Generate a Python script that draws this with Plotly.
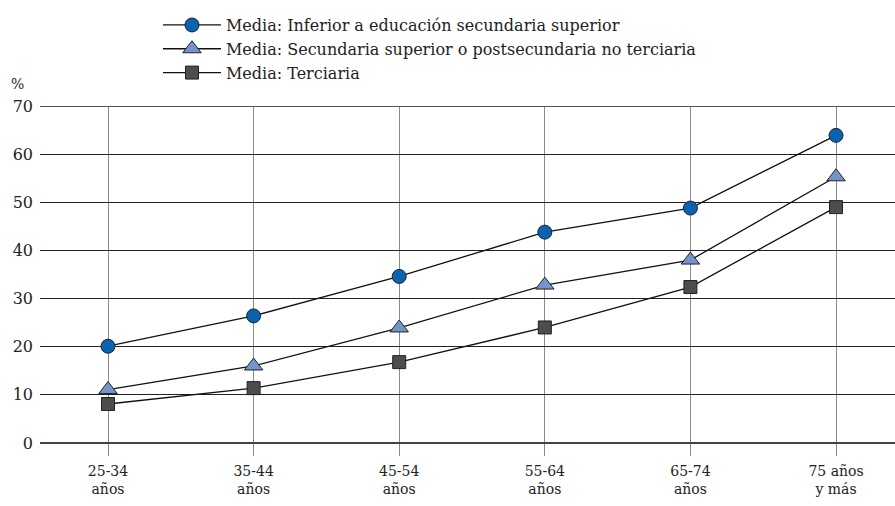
import plotly.graph_objects as go

categories = ["25-34<br>años", "35-44<br>años", "45-54<br>años", "55-64<br>años", "65-74<br>años", "75 años<br>y más"]
inferior = [20.1, 26.4, 34.6, 43.8, 48.8, 63.9]
secundaria = [11.1, 16.0, 23.9, 32.8, 38.0, 55.3]
terciaria = [8.1, 11.4, 16.8, 24.0, 32.4, 49.0]

names = ["Media: Inferior a educación secundaria superior",
         "Media: Secundaria superior o postsecundaria no terciaria",
         "Media: Terciaria"]

xs = list(range(len(categories)))
FONT = "DejaVu Serif"

fig = go.Figure()
styles = [
    (inferior, "circle", "#0a63b0", 14),
    (secundaria, "triangle-up", "#7595c9", 16),
    (terciaria, "square", "#4d4d4d", 13),
]
for (vals, sym, col, sz), nm in zip(styles, names):
    fig.add_trace(go.Scatter(
        x=xs, y=vals, name=nm, mode="lines+markers",
        line=dict(color="#111111", width=1.3),
        marker=dict(symbol=sym, size=sz, color=col, line=dict(color="#222222", width=1)),
    ))

fig.update_layout(
    width=895, height=506,
    margin=dict(l=40, r=0, t=106, b=63),
    paper_bgcolor="white", plot_bgcolor="white",
    font=dict(family=FONT, size=15, color="#222222"),
    showlegend=True,
    legend=dict(x=0.138, y=0.822, yanchor="bottom", xanchor="left",
                yref="container", font=dict(family=FONT, size=16, color="#222222"),
                bgcolor="rgba(0,0,0,0)", tracegroupgap=0, itemwidth=58),
    xaxis=dict(
        tickmode="array", tickvals=xs, ticktext=categories,
        range=[-0.467, 5.405], showgrid=True, gridcolor="#8a8a8a", gridwidth=1,
        ticks="outside", ticklen=12, tickcolor="#8a8a8a", tickwidth=1,
        ticklabelstandoff=3,
        zeroline=False, showline=False,
        tickfont=dict(family=FONT, size=14, color="#222222"),
    ),
    yaxis=dict(
        range=[0, 70], dtick=10, tick0=0, showgrid=True, gridcolor="#222222", gridwidth=1,
        zeroline=True, zerolinecolor="#444444", zerolinewidth=2,
        showline=False, ticks="", ticklabelstandoff=6,
        tickfont=dict(family=FONT, size=16, color="#222222"),
    ),
    shapes=[dict(type="line", xref="paper", yref="y", x0=0, x1=1, y0=70, y1=70,
                 line=dict(color="#555555", width=2))],
    annotations=[dict(text="%", xref="paper", yref="paper", x=-0.026, y=1.0, yshift=12,
                      xanchor="center", yanchor="bottom", showarrow=False,
                      font=dict(family=FONT, size=14, color="#222222"))],
)

fig.write_html("out.html", config={"displayModeBar": False},
               post_script="document.body.style.margin='0';document.body.style.overflow='hidden';")
